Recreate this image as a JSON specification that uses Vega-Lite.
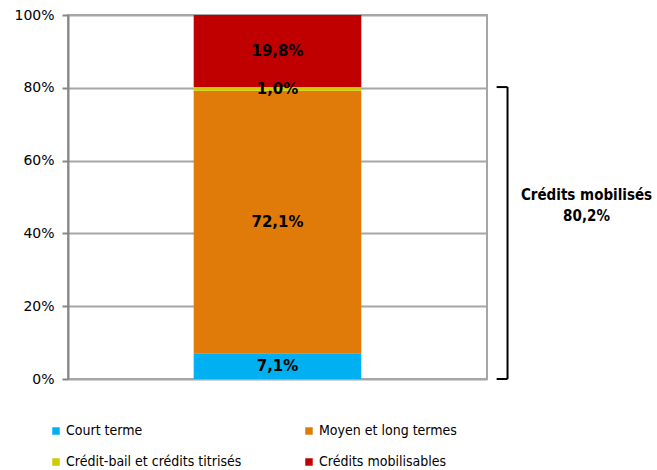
{
  "$schema": "https://vega.github.io/schema/vega-lite/v6.json",
  "width": 419,
  "height": 364,
  "autosize": {"type": "none"},
  "padding": {"left": 68, "top": 15, "right": 170, "bottom": 91},
  "config": {
    "locale": {"number": {"decimal": ",", "thousands": " ", "grouping": [3], "currency": ["", " €"]}},
    "view": {"stroke": "#a6a6a6", "strokeWidth": 2},
    "font": "DejaVu Sans"
  },
  "datasets": {
    "parts": [
      {"serie": "Crédits", "categorie": "Court terme", "valeur": 0.071, "ordre": 1},
      {"serie": "Crédits", "categorie": "Moyen et long termes", "valeur": 0.721, "ordre": 2},
      {"serie": "Crédits", "categorie": "Crédit-bail et crédits titrisés", "valeur": 0.010, "ordre": 3},
      {"serie": "Crédits", "categorie": "Crédits mobilisables", "valeur": 0.198, "ordre": 4}
    ],
    "bracket": [
      {"libelle": "Crédits mobilisés", "bas": 0, "haut": 0.802}
    ]
  },
  "layer": [
    {
      "data": {"name": "parts"},
      "transform": [
        {"stack": "valeur", "groupby": ["serie"], "sort": [{"field": "ordre", "order": "ascending"}], "as": ["y0", "y1"]}
      ],
      "mark": {"type": "bar"},
      "encoding": {
        "x": {"field": "serie", "type": "nominal", "axis": null, "scale": {"paddingInner": 0, "paddingOuter": 0.75}},
        "y": {
          "field": "y0", "type": "quantitative",
          "scale": {"domain": [0, 1], "nice": false},
          "axis": {
            "values": [0, 0.2, 0.4, 0.6, 0.8, 1], "format": ".0%", "title": null,
            "grid": true, "gridColor": "#a6a6a6", "gridWidth": 2,
            "domainColor": "#868686", "domainWidth": 2,
            "tickColor": "#868686", "tickWidth": 2, "tickSize": 6,
            "labelFontSize": 14, "labelColor": "#000000", "labelPadding": 8, "labelFont": "DejaVu Sans"
          }
        },
        "y2": {"field": "y1"},
        "color": {
          "field": "categorie", "type": "nominal",
          "scale": {
            "domain": ["Court terme", "Crédit-bail et crédits titrisés", "Moyen et long termes", "Crédits mobilisables"],
            "range": ["#00b0f0", "#cccc00", "#e07b0a", "#c00000"]
          },
          "legend": {
            "orient": "none", "legendX": -19, "legendY": 409, "columns": 2, "title": null,
            "symbolType": "square", "symbolSize": 56, "symbolStrokeWidth": 0,
            "labelFont": "DejaVu Sans Condensed", "labelFontSize": 14, "labelColor": "#000000",
            "labelOffset": 3, "rowPadding": 17, "columnPadding": 60, "labelLimit": 300
          }
        },
        "order": {"field": "ordre"}
      }
    },
    {
      "data": {"name": "parts"},
      "transform": [
        {"stack": "valeur", "groupby": ["serie"], "sort": [{"field": "ordre", "order": "ascending"}], "as": ["y0", "y1"]},
        {"calculate": "(datum.y0 + datum.y1) / 2", "as": "ymid"}
      ],
      "mark": {"type": "text", "fontWeight": "bold", "fontSize": 15, "color": "#000000", "baseline": "middle", "align": "center"},
      "encoding": {
        "x": {"field": "serie", "type": "nominal", "axis": null, "scale": {"paddingInner": 0, "paddingOuter": 0.75}},
        "y": {"field": "ymid", "type": "quantitative"},
        "text": {"field": "valeur", "type": "quantitative", "format": ".1%"}
      }
    },
    {
      "data": {"name": "bracket"},
      "mark": {"type": "rule", "color": "#000000", "strokeWidth": 2},
      "encoding": {
        "x": {"datum": 1.049, "type": "quantitative", "scale": {"domain": [0, 1]}, "axis": null},
        "y": {"field": "bas", "type": "quantitative"},
        "y2": {"field": "haut"}
      }
    },
    {
      "data": {"name": "bracket"},
      "mark": {"type": "rule", "color": "#000000", "strokeWidth": 2},
      "encoding": {
        "x": {"datum": 1.023, "type": "quantitative", "scale": {"domain": [0, 1]}, "axis": null},
        "x2": {"datum": 1.049},
        "y": {"field": "haut", "type": "quantitative"}
      }
    },
    {
      "data": {"name": "bracket"},
      "mark": {"type": "rule", "color": "#000000", "strokeWidth": 2},
      "encoding": {
        "x": {"datum": 1.023, "type": "quantitative", "scale": {"domain": [0, 1]}, "axis": null},
        "x2": {"datum": 1.049},
        "y": {"field": "bas", "type": "quantitative"}
      }
    },
    {
      "data": {"name": "bracket"},
      "mark": {"type": "text", "fontWeight": "bold", "fontSize": 15, "font": "DejaVu Sans Condensed", "color": "#000000", "align": "center", "baseline": "middle", "lineHeight": 21},
      "encoding": {
        "x": {"datum": 1.2375, "type": "quantitative", "scale": {"domain": [0, 1]}, "axis": null},
        "y": {"datum": 0.505, "type": "quantitative"},
        "text": {"value": ["Crédits mobilisés", "80,2%"]}
      }
    }
  ],
  "resolve": {"scale": {"x": "independent"}}
}
